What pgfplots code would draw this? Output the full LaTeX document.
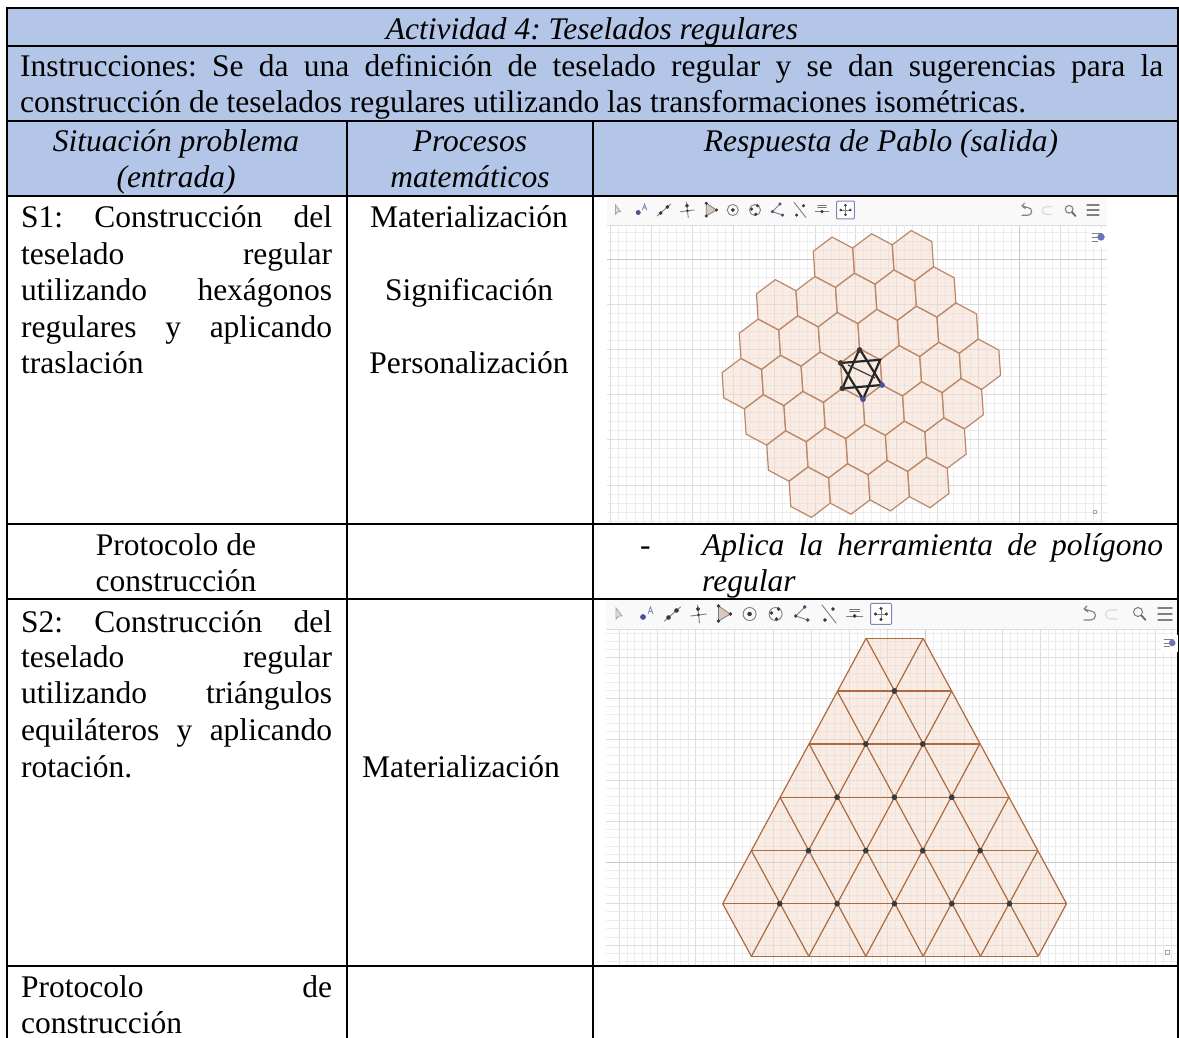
\documentclass[border=0pt]{standalone}
\usepackage{fontspec}
\setmainfont{Liberation Serif}
\usepackage{pgfplots}
\pgfplotsset{compat=1.18}
\definecolor{hdr}{HTML}{B4C6E7}
\definecolor{hexl}{HTML}{BC8868}
\definecolor{hexf}{HTML}{F3D9CB}
\definecolor{tril}{HTML}{AE6A3E}
\definecolor{majg}{HTML}{DDDDDD}
\definecolor{ming}{HTML}{EDEDED}
\definecolor{axg}{HTML}{C8C8C8}
\definecolor{icg}{HTML}{808080}
\definecolor{icd}{HTML}{3A3A3A}
\definecolor{icb}{HTML}{4A4FA0}
\definecolor{tb}{HTML}{F9F9F9}
\pgfdeclareplotmark{hexa}{%
  \pgfpathmoveto{\pgfqpoint{20.6pt}{-11pt}}%
  \pgfpathlineto{\pgfqpoint{1.7pt}{-25.2pt}}%
  \pgfpathlineto{\pgfqpoint{-18.9pt}{-14.2pt}}%
  \pgfpathlineto{\pgfqpoint{-20.6pt}{11pt}}%
  \pgfpathlineto{\pgfqpoint{-1.7pt}{25.2pt}}%
  \pgfpathlineto{\pgfqpoint{18.9pt}{14.2pt}}%
  \pgfpathclose
  \pgfusepathqfillstroke}
\tikzset{ic/.style={x=1pt,y=1pt,line cap=round}}
\pgfdeclareplotmark{icA}{\begin{scope}[ic]\draw[icg!70,line width=.9pt,fill=icg!25](-3,6)--(-3,-5)--(0,-2)--(3,-2)--cycle;\end{scope}}
\pgfdeclareplotmark{icB}{\begin{scope}[ic]\fill[icb](-4,-3)circle[radius=2.6pt];\draw[icb!70,line width=.8pt](1,0)--(3.5,7)--(6,0)(2,2.5)--(5,2.5);\end{scope}}
\pgfdeclareplotmark{icC}{\begin{scope}[ic]\draw[icg,line width=.9pt](-8,-7)--(8,7);\fill[icd](-4,-3.5)circle[radius=2pt](4,3.5)circle[radius=2pt];\end{scope}}
\pgfdeclareplotmark{icD}{\begin{scope}[ic]\draw[icg,line width=.9pt](-1,9)--(1,-9)(-8,-2)--(8,0);\fill[icd](-.5,5)circle[radius=1.8pt](0,-1)circle[radius=1.2pt];\end{scope}}
\pgfdeclareplotmark{icE}{\begin{scope}[ic]\draw[icg,fill=hexf!80!gray,line width=.8pt](-5,8)--(-5,-7)--(7,0)--cycle;\fill[icd](-5,8)circle[radius=1.6pt](-5,-7)circle[radius=1.6pt](7,0)circle[radius=1.6pt];\end{scope}}
\pgfdeclareplotmark{icF}{\begin{scope}[ic]\draw[icg,line width=.9pt](0,0)circle[radius=6.5pt];\fill[icd](0,0)circle[radius=2pt];\end{scope}}
\pgfdeclareplotmark{icG}{\begin{scope}[ic]\draw[icg,line width=.9pt](0,0)circle[radius=6.5pt];\fill[icd](3,5)circle[radius=1.6pt](-4,1)circle[radius=1.6pt](1,-5)circle[radius=1.6pt];\end{scope}}
\pgfdeclareplotmark{icH}{\begin{scope}[ic]\draw[icg,line width=.9pt](3,7)--(-6,-2)--(6,-6);\fill[icb!60!icd](3,7)circle[radius=1.6pt](-6,-2)circle[radius=1.6pt](6,-6)circle[radius=1.6pt];\end{scope}}
\pgfdeclareplotmark{icI}{\begin{scope}[ic]\draw[icg,line width=.9pt](-7,9)--(7,-9);\fill[icd](4,5)circle[radius=1.6pt](-4,-6)circle[radius=1.6pt];\end{scope}}
\pgfdeclareplotmark{icJ}{\begin{scope}[ic]\draw[icd!70,line width=.7pt](-5,5)--(5,5)(-5,3)--(5,3);\draw[icg,line width=.9pt](-8,-2)--(8,-2);\fill[icd](0,-2)circle[radius=1.7pt];\end{scope}}
\pgfdeclareplotmark{icK}{\begin{scope}[ic]\draw[icb!70!white,line width=1pt,rounded corners=1pt,fill=white](-10.5,-10.5)rectangle(10.5,10.5);\draw[icg,line width=.7pt](-5,0)--(5,0)(0,-5)--(0,5);\fill[icd](0,5.5)circle[radius=1.3pt](0,-5.5)circle[radius=1.3pt](5.5,0)circle[radius=1.3pt](-5.5,0)circle[radius=1.3pt];\end{scope}}
\pgfdeclareplotmark{icU}{\begin{scope}[ic]\draw[icg,line width=1.1pt](-6,6)--(1,4) arc[start angle=90,end angle=-90,radius=4.5pt]--(-6,-5)(-6,6)--(-3,9)(-6,6)--(-2,3);\end{scope}}
\pgfdeclareplotmark{icR}{\begin{scope}[ic]\draw[icg!30,line width=1.1pt](6,5)--(-1,5) arc[start angle=90,end angle=270,radius=4.5pt]--(6,-4);\end{scope}}
\pgfdeclareplotmark{icS}{\begin{scope}[ic]\draw[icg,line width=1.1pt](-1,2)circle[radius=4.5pt];\draw[icg!80!black,line width=1.8pt](2.5,-1.5)--(6.5,-6);\end{scope}}
\pgfdeclareplotmark{icM}{\begin{scope}[ic]\draw[icg,line width=1.4pt](-7,6)--(7,6)(-7,0)--(7,0)(-7,-6)--(7,-6);\end{scope}}
\pgfdeclareplotmark{icP}{\begin{scope}[ic]\fill[white](-8,-9)rectangle(8,9);\draw[icg,line width=.8pt](-6,4)--(4,4)(-6,0)--(0,0)(-6,-4)--(0,-4);\fill[icb!80](3,0)circle[radius=3.4pt];\end{scope}}
\pgfdeclareplotmark{icQ}{\begin{scope}[ic]\draw[icg!70,line width=.6pt](-2,-2)rectangle(2,2);\end{scope}}
\newcommand{\icon}[4]{\addplot[only marks,mark=#1,mark options={scale=#4}] coordinates {(#2,#3)};}
\newcommand{\T}[3]{\node[anchor=base west,inner sep=0pt] at (axis cs:#1,#2) {#3};}
\newcommand{\C}[3]{\node[anchor=base,inner sep=0pt] at (axis cs:#1,#2) {#3};}
\newcommand{\J}[4]{\node[anchor=base west,inner sep=0pt] at (axis cs:#1,#2) {\makebox[#3pt][s]{#4}};}
\newcommand{\hl}[3]{\addplot[black,line width=2pt] coordinates {(#1,#3)(#2,#3)};}
\newcommand{\vl}[3]{\addplot[black,line width=2pt] coordinates {(#3,#1)(#3,#2)};}
\pgfplotsset{panel/.style={scale only axis,y dir=reverse,anchor=south west,clip=true,clip mode=individual,
  axis line style={draw=none},tick style={draw=none},
  xticklabels={},yticklabels={},grid=both,
  major grid style={majg,line width=.8pt},minor grid style={ming,line width=.7pt},
  axis on top=false}}
\begin{document}
\frenchspacing
\begin{tikzpicture}
\path[use as bounding box] (0,0) rectangle (1179pt,1038pt);
\fontsize{31.5}{36.6}\selectfont
%---- table
\begin{axis}[at={(0pt,0pt)},anchor=south west,scale only axis,width=1179pt,height=1038pt,
  xmin=0,xmax=1179,ymin=0,ymax=1038,y dir=reverse,hide axis,clip=false]
\addplot[fill=hdr,draw=none] coordinates {(7,8)(1178,8)(1178,196)(7,196)} --cycle;
\hl{6}{1179}{8}
\hl{6}{1179}{46}
\hl{6}{1179}{121}
\hl{6}{1179}{196}
\hl{6}{1179}{524}
\hl{6}{1179}{599}
\hl{6}{1179}{966}
\vl{7}{1038}{7}
\vl{7}{1038}{1178}
\vl{121}{1038}{347}
\vl{121}{1038}{593}
\C{592}{39.5}{\itshape Actividad 4: Teselados regulares}
\J{20}{77}{1143}{Instrucciones: Se da una definición de teselado regular y se dan sugerencias para la}
\T{20}{113}{construcción de teselados regulares utilizando las transformaciones isométricas.}
\C{176}{152}{\itshape Situación problema}
\C{176}{188}{\itshape (entrada)}
\C{470}{152}{\itshape Procesos}
\C{470}{188}{\itshape matemáticos}
\C{881}{152}{\itshape Respuesta de Pablo (salida)}
\J{21}{227}{311}{S1: Construcción del}
\J{21}{264}{311}{teselado regular}
\J{21}{300}{311}{utilizando hexágonos}
\J{21}{337}{311}{regulares y aplicando}
\T{21}{373.5}{traslación}
\C{469}{227}{Materialización}
\C{469}{300}{Significación}
\C{469}{373.5}{Personalización}
\C{176}{555}{Protocolo de}
\C{176}{591}{construcción}
\T{640}{555}{-}
\J{702}{555}{461}{\itshape Aplica la herramienta de polígono}
\T{702}{591}{\itshape regular}
\J{21}{632}{311}{S2: Construcción del}
\J{21}{667.5}{311}{teselado regular}
\J{21}{703.5}{311}{utilizando triángulos}
\J{21}{740}{311}{equiláteros y aplicando}
\T{21}{777}{rotación.}
\C{461}{777}{Materialización}
\J{21}{997}{311}{Protocolo de}
\T{21}{1033}{construcción}
\end{axis}
%---- first picture
\begin{axis}[panel,at={(607pt,515pt)},width=500pt,height=326pt,
  xmin=607,xmax=1107,ymin=197,ymax=523,
  xtick={610,651,692,733,774,815,855,896,937,978,1019,1060,1101},
  ytick={214,259,304,349,394,439,485},
  minor xtick={618,626,635,643,659,667,676,684,700,708,717,725,741,749,758,766,782,790,799,807,823,831,839,847,863,871,880,888,904,912,921,929,945,953,962,970,986,994,1003,1011,1027,1035,1044,1052,1068,1076,1085,1093},
  minor ytick={223,232,241,250,268,277,286,295,313,322,331,340,358,367,376,385,403,412,421,430,448,457,467,476,494,503,512,521}]
\addplot[axg,line width=.9pt] coordinates {(607,259)(1107,259)};
\addplot[axg,line width=.9pt] coordinates {(1019,226)(1019,523)};
\addplot[only marks,mark=hexa,mark options={fill=hexf,fill opacity=.5,draw=hexl,line width=1.2pt,solid}] coordinates {
(833.8,262.3)(873.35,259)(912.9,255.8)
(777.05,304.9)(816.6,301.7)(856.15,298.4)(895.7,295.2)(935.25,292)
(759.85,344.3)(799.4,341.1)(838.95,337.8)(878.5,334.6)(918.05,331.4)(957.6,328.1)
(742.65,383.7)(782.2,380.5)(821.75,377.2)(861.3,374)(900.85,370.8)(940.4,367.5)(979.95,364.3)
(765,419.9)(804.55,416.6)(844.1,413.4)(883.65,410.2)(923.2,406.9)(962.75,403.7)
(787.35,456)(826.9,452.8)(866.45,449.6)(906,446.3)(945.55,443.1)
(809.7,492.2)(849.25,489)(888.8,485.7)(928.35,482.5)};
% star
\addplot[black!85,line width=2.2pt] coordinates {(859.6,348.8)(881.9,385)(842.4,388.4)(859.6,348.8)};
\addplot[black!85,line width=2.2pt] coordinates {(863,399.2)(840.7,363)(880.2,359.8)(863,399.2)};
\addplot[icd,line width=1.2pt] coordinates {(848,365)(875,378)};
\addplot[only marks,mark=*,mark size=2.6pt,icd,mark options={fill=icd}] coordinates {(859.6,350)(842.4,388.4)(840.7,363)};
\addplot[only marks,mark=*,mark size=2.6pt,icb,mark options={fill=icb}] coordinates {(863,399.2)(882,385)};
% toolbar
\addplot[fill=tb,draw=none] coordinates {(607,197)(1107,197)(1107,225)(607,225)} --cycle;
\addplot[majg,line width=.8pt] coordinates {(607,225.5)(1107,225.5)};
\icon{icA}{618}{210}{.85}
\icon{icB}{641.6}{210}{.85}
\icon{icC}{664}{210}{.85}
\icon{icD}{687.4}{210}{.85}
\icon{icE}{710.5}{210}{.85}
\icon{icF}{732.8}{210}{.85}
\icon{icG}{755}{210}{.85}
\icon{icH}{777.5}{210}{.85}
\icon{icI}{800}{210}{.85}
\icon{icJ}{822}{210}{.85}
\icon{icK}{845.5}{210}{.85}
\icon{icU}{1027}{211}{.85}
\icon{icR}{1047}{211}{.85}
\icon{icS}{1070}{211}{.85}
\icon{icM}{1093}{210}{.85}
\icon{icP}{1098}{237}{1}
\icon{icQ}{1095}{512}{.85}
\end{axis}
%---- second picture
\begin{axis}[panel,at={(606pt,73pt)},width=571pt,height=365pt,
  xmin=606,xmax=1177,ymin=600,ymax=965,
  xtick={619,657,695,734,773,811,849,887,925,964,1002,1040,1078,1116,1155},
  ytick={616,657,698,739,780,821,862,903,945},
  minor xtick={627,634,642,650,665,672,680,688,703,711,718,726,742,750,757,765,781,788,796,803,819,826,834,841,857,864,872,880,895,902,910,917,933,941,948,956,972,979,987,995,1010,1017,1025,1032,1048,1055,1063,1070,1086,1093,1101,1108,1124,1132,1139,1147,1163,1171},
  minor ytick={633,641,649,665,673,682,690,706,714,723,731,747,755,764,772,788,796,805,813,829,837,846,854,870,878,887,895,911,920,928,937,953,961}]
\addplot[axg,line width=.9pt] coordinates {(606,862)(1177,862)};
\addplot[axg,line width=.9pt] coordinates {(925,630)(925,965)};
\addplot[fill=hexf,fill opacity=.5,draw=none] coordinates {(866.1,638.3)(923.1,638.3)(1066.5,903.7)(1038.2,956.3)(751.4,956.3)(722.7,903.7)} --cycle;
% horizontal rows
\addplot[tril,line width=1.2pt] coordinates {(866.1,638.3)(923.1,638.3)};
\addplot[tril,line width=1.2pt] coordinates {(837.1,691)(951.8,691)};
\addplot[tril,line width=1.4pt] coordinates {(809.2,744)(979.7,744)};
\addplot[tril,line width=1.4pt] coordinates {(780.1,797.3)(1008.8,797.3)};
\addplot[tril,line width=1.4pt] coordinates {(751.4,850.7)(1037.8,850.7)};
\addplot[tril,line width=1.2pt] coordinates {(722.7,903.7)(1066.5,903.7)};
\addplot[tril,line width=1.4pt] coordinates {(751.4,956.3)(1038.2,956.3)};
% lines falling to the right
\addplot[tril,line width=1.2pt] coordinates {(866.1,638.3)(1038.2,956.3)};
\addplot[tril,line width=1.2pt] coordinates {(923.1,638.3)(1066.5,903.7)};
\addplot[tril,line width=1.2pt] coordinates {(837.1,691)(980.5,956.3)};
\addplot[tril,line width=1.2pt] coordinates {(809.2,744)(923.1,956.3)};
\addplot[tril,line width=1.2pt] coordinates {(780.1,797.3)(865.8,956.3)};
\addplot[tril,line width=1.2pt] coordinates {(751.4,850.7)(808.8,956.3)};
\addplot[tril,line width=1.2pt] coordinates {(722.7,903.7)(751.4,956.3)};
% lines falling to the left
\addplot[tril,line width=1.2pt] coordinates {(923.1,638.3)(751.4,956.3)};
\addplot[tril,line width=1.2pt] coordinates {(951.8,691)(808.8,956.3)};
\addplot[tril,line width=1.2pt] coordinates {(979.7,744)(865.8,956.3)};
\addplot[tril,line width=1.2pt] coordinates {(1008.8,797.3)(923.1,956.3)};
\addplot[tril,line width=1.2pt] coordinates {(1037.8,850.7)(980.5,956.3)};
\addplot[tril,line width=1.2pt] coordinates {(1066.5,903.7)(1038.2,956.3)};
\addplot[tril,line width=1.2pt] coordinates {(866.1,638.3)(722.7,903.7)};
% points
\addplot[only marks,mark=*,mark size=2.6pt,icd,mark options={fill=icd}] coordinates {
(894.4,691)(865.8,744)(922.7,744)(837.1,797.3)(894.4,797.3)(951.8,797.3)
(808.4,850.7)(865.8,850.7)(922.7,850.7)(980.1,850.7)
(779.7,903.7)(837.1,903.7)(894.4,903.7)(951.8,903.7)(1009.5,903.7)};
% toolbar
\addplot[fill=tb,draw=none] coordinates {(606,600)(1177,600)(1177,629)(606,629)} --cycle;
\addplot[majg,line width=.8pt] coordinates {(606,629.5)(1177,629.5)};
\icon{icA}{619}{614}{1}
\icon{icB}{647}{614}{1}
\icon{icC}{672.5}{614}{1}
\icon{icD}{698.5}{614}{1}
\icon{icE}{723.5}{614}{1}
\icon{icF}{749.6}{614}{1}
\icon{icG}{775.6}{614}{1}
\icon{icH}{801.7}{614}{1}
\icon{icI}{829}{614}{1}
\icon{icJ}{854.6}{614}{1}
\icon{icK}{881}{614}{1}
\icon{icU}{1090}{615}{1}
\icon{icR}{1111}{615}{1}
\icon{icS}{1139}{614}{1}
\icon{icM}{1165}{614}{1}
\icon{icP}{1169.5}{643}{.9}
\icon{icQ}{1167}{952}{1}
\end{axis}
\end{tikzpicture}
\end{document}
